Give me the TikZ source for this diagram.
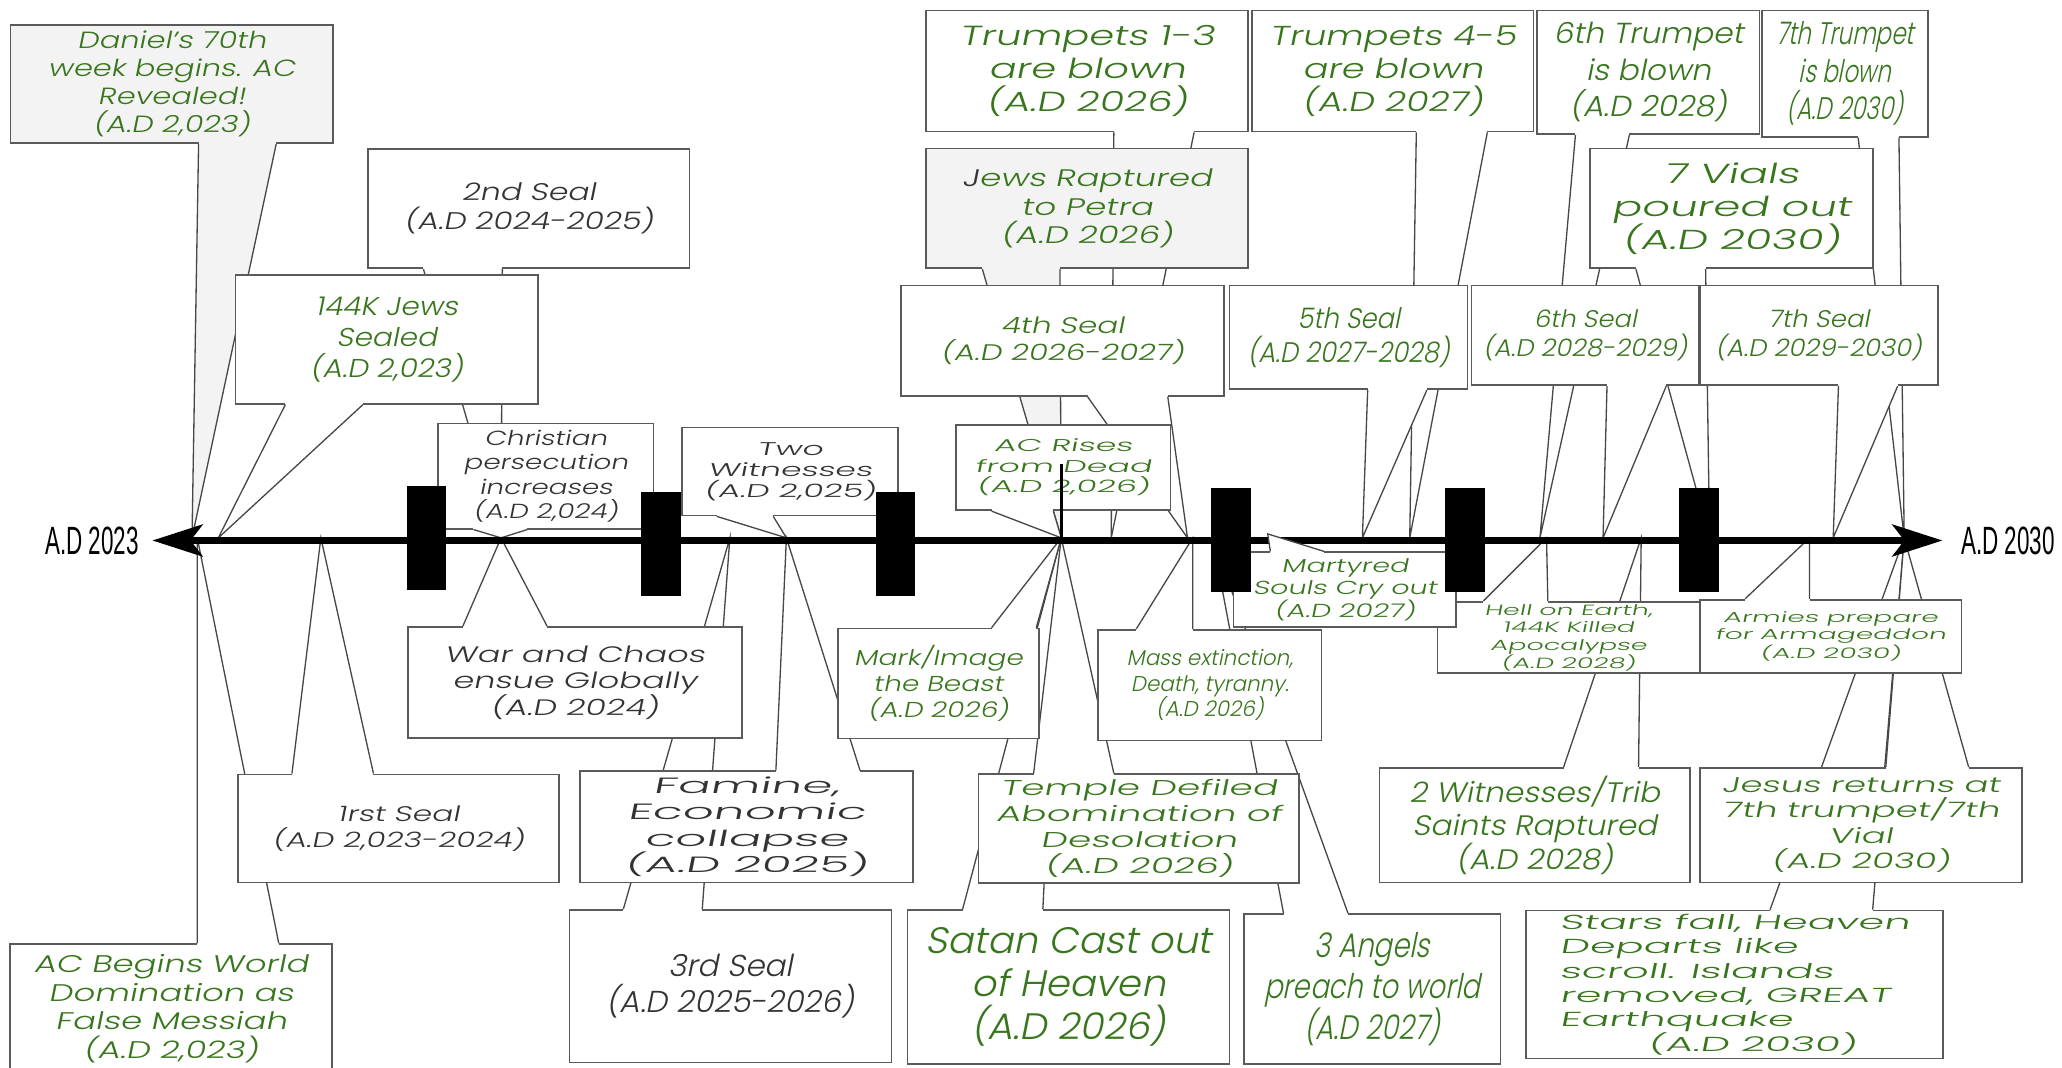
\documentclass[tikz,border=0pt]{standalone}
\usepackage{fontspec}
\usetikzlibrary{calc,arrows.meta}
\IfFontExistsTF{Poppins Light}{\newfontfamily\qs{Poppins Light}[FakeSlant=0.2]}{\newfontfamily\qs{Poppins}[FakeSlant=0.2]}
\newfontfamily\axisfont{Liberation Sans}[FakeStretch=0.57]
\newcommand{\qsf}[4]{\qs\addfontfeatures{FakeStretch=#3,LetterSpace=#4}\fontsize{#1}{#2}\selectfont}
\definecolor{leaf}{HTML}{38761D}
\definecolor{ink}{HTML}{333333}
\definecolor{paper}{HTML}{F3F3F3}
\definecolor{rim}{HTML}{5A5A5A}
\definecolor{wire}{HTML}{474747}
\tikzset{
    note/.style={
        rectangle,
        draw=rim, line width=1.3pt,
        fill=white,
        inner sep=0pt,
        align=center,
        text=leaf
    },
    boxsize/.style 2 args={minimum width=#1pt, minimum height=#2pt},
    pointer/.style={draw=wire, line width=1pt, line join=miter},
    sealbar/.style={rectangle, fill=black, minimum width=30pt, minimum height=79pt, inner sep=0pt},
    timeline/.style={draw, line width=6pt, <->},
    axislabel/.style={font=\axisfont\fontsize{30}{32}\selectfont, inner sep=0pt},
    tickline/.style={draw, line width=2pt}
}
% box anchor, left x, right x, point on the line
\newcommand{\callpt}[5][white]{%
    \fill[#1] let \p1=(#2) in (#3pt,\y1) -- (#5) -- (#4pt,\y1) -- cycle;
    \draw[#1,line width=2.8pt] let \p1=(#2) in (#3pt,\y1) -- (#4pt,\y1);
    \draw[pointer] let \p1=(#2) in (#3pt,\y1) -- (#5) -- (#4pt,\y1);
}
\begin{document}
\begin{tikzpicture}[x=1pt, y=1pt, >={Stealth[length=38pt,width=24pt,inset=9pt]}]
                            \useasboundingbox[fill=white] (0,0) rectangle (1568,-811.4);
                            \coordinate (tDan) at (146,-409);
                            \coordinate (tACb) at (150,-409);
                            \coordinate (t144) at (166,-409);
                            \coordinate (t1st) at (244,-409);
                            \coordinate (tWar) at (381,-409);
                            \coordinate (t3rd) at (555,-409);
                            \coordinate (tTwo) at (598,-409);
                            \coordinate (tJews) at (807,-409);
                            \coordinate (tT13) at (845,-409);
                            \coordinate (t4th) at (903,-409);
                            \coordinate (tMass) at (907,-409);
                            \coordinate (tAng) at (922,-409);
                            \coordinate (tMar) at (964,-406);
                            \coordinate (t5th) at (1036,-409);
                            \coordinate (tT45) at (1072,-409);
                            \coordinate (t6T) at (1171,-409);
                            \coordinate (tHell) at (1176,-409);
                            \coordinate (t6S) at (1219,-409);
                            \coordinate (tWit) at (1248,-409);
                            \coordinate (tVia) at (1300,-409);
                            \coordinate (tArm) at (1376,-409);
                            \coordinate (t7S) at (1394,-409);
                            \coordinate (tEnd) at (1448,-409);

                            \node[note, boxsize={245}{90}, fill=paper, font={\qsf{17.8}{21.3}{1.30}{0}}] (dan) at (130.5,-64) {Daniel’s 70th\\week begins. AC\\Revealed!\\(A.D 2,023)};
                            \callpt[paper]{dan.south}{151}{210}{tDan}
                            \node[note, boxsize={245}{92}, font={\qsf{21}{25}{1.45}{0}}] (t13) at (826.5,-54) {Trumpets 1-3\\are blown\\(A.D 2026)};
                            \callpt{t13.south}{847}{908}{tT13}
                            \node[note, boxsize={214}{92}, font={\qsf{20.8}{25}{1.34}{0}}] (t45) at (1059,-54) {Trumpets 4-5\\are blown\\(A.D 2027)};
                            \callpt{t45.south}{1077}{1131}{tT45}
                            \node[note, boxsize={169}{94}, font={\qsf{22}{27.8}{1.08}{0}}] (sixT) at (1253.5,-55) {6th Trumpet\\is blown\\(A.D 2028)};
                            \callpt{sixT.south}{1198}{1239}{t6T}
                            \node[note, boxsize={126}{96}, font={\qsf{23.7}{28.5}{0.74}{0}}] (sevT) at (1403,-56) {7th Trumpet\\is blown\\(A.D 2030)};
                            \callpt{sevT.south}{1413}{1444}{tEnd}

                            \node[note, boxsize={244.5}{90.5}, text=ink, font={\qsf{18.3}{22}{1.31}{0}}] (sec) at (402,-158.75) {2nd Seal\\(A.D 2024-2025)};
                            \callpt{sec.south}{322}{382}{tWar}
                            \node[note, boxsize={245}{91}, fill=paper, font={\qsf{18.2}{21.8}{1.43}{0}}] (jews) at (826.5,-158.5) {{\color{ink}J}ews Raptured\\to Petra\\(A.D 2026)};
                            \callpt[paper]{jews.south}{747}{806}{tJews}
                            \node[note, boxsize={215}{91}, font={\qsf{20.9}{25.1}{1.58}{0}}] (vials) at (1316.5,-158.5) {7 Vials\\poured out\\(A.D 2030)};
                            \callpt{vials.south}{1244}{1297}{tVia}

                            \node[note, boxsize={230}{98}, font={\qsf{19.6}{23.5}{1.15}{0}}] (k144) at (294,-258) {144K Jews\\Sealed\\(A.D 2,023)};
                            \callpt{k144.south}{217}{276}{t144}
                            \node[note, boxsize={246}{84}, font={\qsf{17.1}{20.5}{1.38}{0}}] (fourth) at (808,-259) {4th Seal\\(A.D 2026-2027)};
                            \callpt{fourth.south}{827}{888}{t4th}
                            \node[note, boxsize={181}{79}, font={\qsf{21.5}{25.8}{0.91}{0}}] (fifth) at (1025.5,-256.5) {5th Seal\\(A.D 2027-2028)};
                            \callpt{fifth.south}{1040}{1085}{t5th}
                            \node[note, boxsize={173}{76}, font={\qsf{18.3}{22}{1.07}{0}}] (sixS) at (1205.5,-255) {6th Seal\\(A.D 2028-2029)};
                            \callpt{sixS.south}{1222}{1267}{t6S}
                            \node[note, boxsize={181}{76}, font={\qsf{18.3}{22}{1.08}{0}}] (sevS) at (1383,-255) {7th Seal\\(A.D 2029-2030)};
                            \callpt{sevS.south}{1398}{1443}{t7S}

                            \node[note, boxsize={164}{80}, text=ink, font={\qsf{15.5}{18.6}{1.37}{0}}] (chr) at (415,-362) {Christian\\persecution\\increases\\(A.D 2,024)};
                            \callpt{chr.south}{360}{401}{tWar}
                            \node[note, boxsize={164.5}{67}, text=ink, font={\qsf{14}{16}{1.8}{0}}] (two) at (600.75,-358.5) {Two\\Witnesses\\(A.D 2,025)};
                            \callpt{two.south}{545}{588}{tTwo}
                            \node[note, boxsize={163}{65}, font={\qsf{13}{15.6}{1.95}{0}}] (acr) at (808.5,-355.5) {AC Rises\\from Dead\\(A.D 2,026)};
                            \callpt{acr.south}{754}{801}{tJews}

                            \node[note, boxsize={244.5}{98}, font={\qsf{18.3}{22}{1.41}{0}}] (acb) at (130,-767) {AC Begins World\\Domination as\\False Messiah\\(A.D 2,023)};
                            \callpt{acb.north}{150}{212}{tACb}
                            \node[note, boxsize={245}{116}, text=ink, font={\qsf{23}{27.5}{1.03}{0}}] (third) at (555.5,-750) {3rd Seal\\(A.D 2025-2026)};
                            \callpt{third.north}{474}{534}{t3rd}
                            \node[note, boxsize={245}{117}, font={\qsf{28}{32.7}{1.05}{0}}] (satan) at (812.5,-750.5) {Satan Cast out\\of Heaven\\(A.D 2026)};
                            \callpt{satan.north}{732}{793}{tJews}
                            \node[note, boxsize={195}{114}, font={\qsf{25.8}{31}{0.81}{0}}] (angels) at (1043.5,-752) {3 Angels\\preach to world\\(A.D 2027)};
                            \callpt{angels.north}{976}{1025}{tAng}
                            \node[note, boxsize={317.5}{112.6}, align=left, font={\qsf{15.4}{18.5}{2.05}{0}}] (stars) at (1319,-748.7) {Stars fall, Heaven\\Departs like\\scroll. Islands\\removed, GREAT\\Earthquake\\\hspace*{67pt}(A.D 2030)};
                            \callpt{stars.north}{1346}{1424}{tEnd}

                            \node[note, boxsize={244}{82.3}, text=ink, font={\qsf{16.1}{19.3}{1.48}{0}}] (first) at (303,-630) {1rst Seal\\(A.D 2,023-2024)};
                            \callpt{first.north}{222}{284}{t1st}
                            \node[note, boxsize={253}{84.5}, text=ink, font={\qsf{16.8}{20.2}{2.2}{0}}] (famine) at (567.5,-628.75) {Famine,\\Economic\\collapse\\(A.D 2025)};
                            \callpt{famine.north}{590}{654}{tTwo}
                            \node[note, boxsize={244}{82.5}, font={\qsf{16.3}{19.6}{1.75}{0}}] (temple) at (866,-630) {Temple Defiled\\Abomination of\\Desolation\\(A.D 2026)};
                            \callpt{temple.north}{786}{847}{tJews}
                            \node[note, boxsize={236}{87}, font={\qsf{21.4}{25.7}{1.11}{0}}] (twowit) at (1167,-627.5) {2 Witnesses/Trib\\Saints Raptured\\(A.D 2028)};
                            \callpt{twowit.north}{1189}{1246}{tWit}
                            \node[note, boxsize={245}{87}, font={\qsf{16.2}{19.4}{1.67}{0}}] (jesus) at (1415,-627.5) {Jesus returns at\\7th trumpet/7th\\Vial\\(A.D 2030)};
                            \callpt{jesus.north}{1434}{1497}{tEnd}

                            \node[note, boxsize={254}{84.5}, text=ink, font={\qsf{17}{20.3}{1.5}{0}}] (war) at (437,-519) {War and Chaos\\ensue Globally\\(A.D 2024)};
                            \callpt{war.north}{352}{416}{tWar}
                            \node[note, boxsize={153}{83.5}, font={\qsf{16.4}{19.7}{1.30}{0}}] (mark) at (713.5,-519.75) {Mark/Image\\the Beast\\(A.D 2026)};
                            \callpt{mark.north}{754}{788}{tJews}
                            \node[note, boxsize={170}{84}, font={\qsf{16.3}{19.5}{1.0}{0}}] (mass) at (920,-521) {Mass extinction,\\Death, tyranny.\\(A.D 2026)};
                            \callpt{mass.north}{864}{907}{tMass}
                            \node[note, boxsize={199.4}{54.4}, font={\qsf{11.2}{13.4}{1.82}{0}}] (hell) at (1192.7,-484.8) {Hell on Earth,\\144K Killed\\Apocalypse\\(A.D 2028)};
                            \callpt{hell.north}{1128}{1177}{tHell}
                            \node[note, boxsize={199}{55.6}, font={\qsf{11}{13.2}{1.94}{0}}] (armies) at (1392,-483.8) {Armies prepare\\for Armageddon\\(A.D 2030)};
                            \callpt{armies.north}{1327}{1376}{tArm}

                            \node[axislabel] (lstart) at (70,-411) {A.D 2023};
                            \node[axislabel] (lend) at (1527,-411) {A.D 2030};
                            \draw[timeline] ([xshift=10pt]lstart.east) -- ([xshift=-14pt]lend.west);

                            \node[note, boxsize={169.4}{56.6}, font={\qsf{14.3}{17.2}{1.52}{0}}] (mart) at (1022.7,-448.3) {Martyred\\Souls Cry out\\(A.D 2027)};
                            \callpt{mart.north}{966}{1007}{tMar}

                            \node[sealbar] (s1) at (324.5,-409) {};
                            \node[sealbar] (s2) at (502.5,-414) {};
                            \node[sealbar] (s3) at (681,-414) {};
                            \node[sealbar] (s4) at (936,-410.5) {};
                            \node[sealbar] (s5) at (1114,-410.5) {};
                            \node[sealbar] (s6) at (1292,-410.5) {};
                            \coordinate (tickTop) at (807,-353);
                            \draw[tickline] (tickTop) -- ([yshift=-3pt]tJews);
                        \end{tikzpicture}
\end{document}
